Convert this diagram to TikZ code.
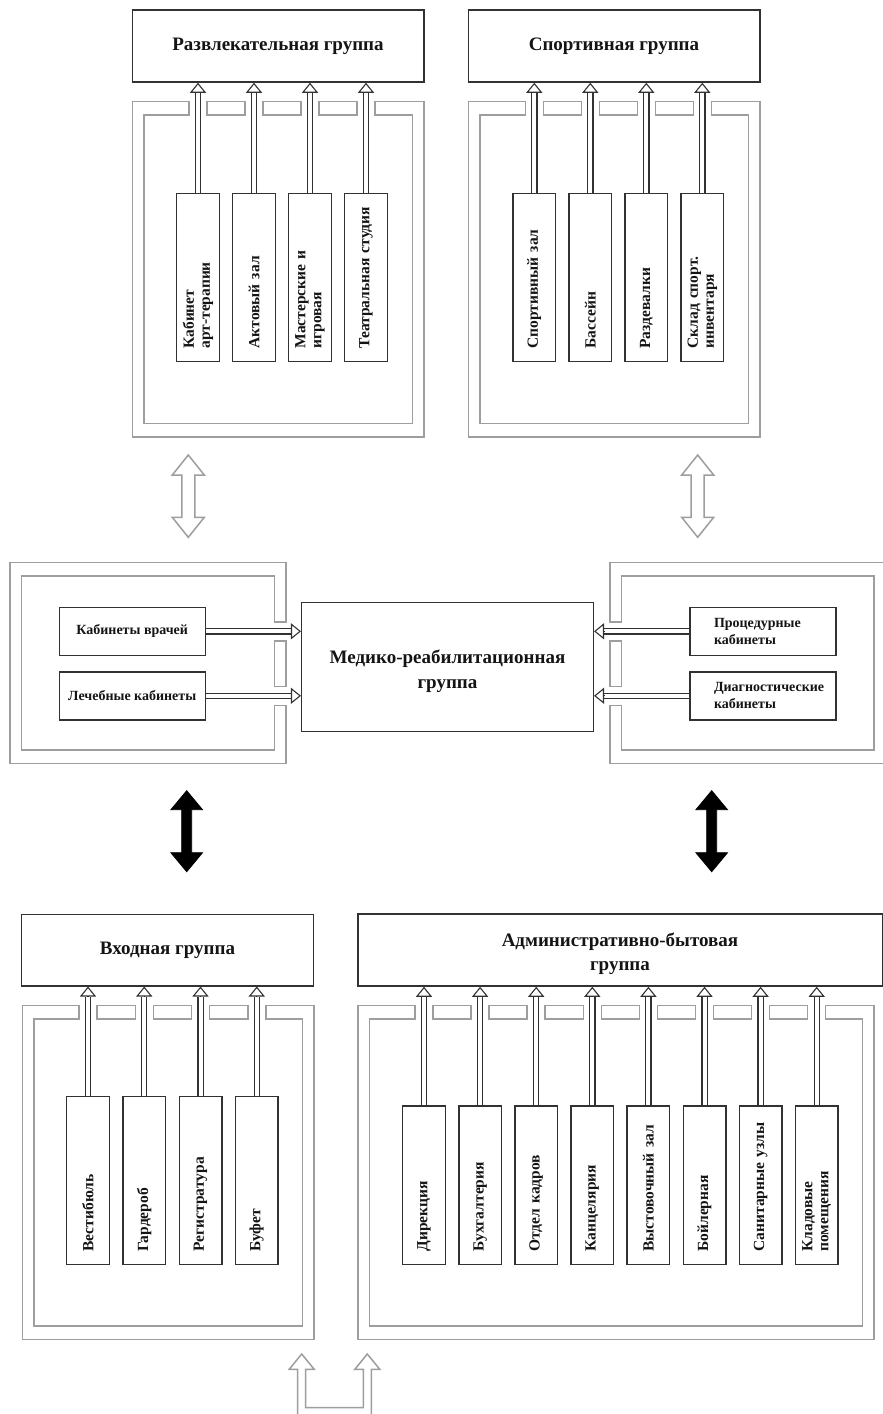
\documentclass[tikz,border=0pt]{standalone}
\usepackage{fontspec}
\setmainfont{Liberation Serif}
\usetikzlibrary{arrows.meta,calc}
\definecolor{wallc}{RGB}{158,158,158}
\definecolor{boxc}{RGB}{50,50,50}
\definecolor{txtc}{RGB}{20,20,20}
\newcommand\ttlfont{\fontsize{19}{24.5}\selectfont\bfseries}
\newcommand\roomfont{\fontsize{15.5}{16}\selectfont\bfseries}
\newcommand\midfont{\fontsize{14}{16.7}\selectfont\bfseries}
\newcommand\lowerfirst{\rule{0pt}{21.5pt}}
% wall with openings on the top side
\newcommand\gapwall[7]{%
  \pgfmathsetmacro\wgA{#5-9}%
  \pgfmathsetmacro\wgB{#5+(#7-1)*#6+9}%
  \pgfmathsetmacro\wxa{#1+11.5}\pgfmathsetmacro\wxb{#3-11.5}%
  \pgfmathsetmacro\wya{#2+13.5}\pgfmathsetmacro\wyb{#4-13.5}%
  \draw[wall] (\wgA,#2) -- (#1,#2) -- (#1,#4) -- (#3,#4) -- (#3,#2) -- (\wgB,#2)
     -- (\wgB,\wya) -- (\wxb,\wya) -- (\wxb,\wyb) -- (\wxa,\wyb) -- (\wxa,\wya) -- (\wgA,\wya) -- cycle;
  \pgfmathtruncatemacro\wnm{#7-2}%
  \foreach \k in {0,...,\wnm}{%
    \draw[wall] ({#5+\k*#6+9},#2) rectangle ({#5+(\k+1)*#6-9},\wya);
  }%
}
% connector: double shaft + open triangle head
\newcommand\conn[3]{%
  \draw[shaft] (#1) -- ($(#2)!#3!(#1)$);
  \draw[headtip] ($(#2)!#3!(#1)$) -- (#2);
}
% vertical double-headed block arrow
\newcommand\vdarrow[7]{%
  \draw[#7] (#1,#2) -- ({#1+#4},{#2+#6}) -- ({#1+#5},{#2+#6}) -- ({#1+#5},{#3-#6})
    -- ({#1+#4},{#3-#6}) -- (#1,#3) -- ({#1-#4},{#3-#6}) -- ({#1-#5},{#3-#6})
    -- ({#1-#5},{#2+#6}) -- ({#1-#4},{#2+#6}) -- cycle;
}
\begin{document}
\begin{tikzpicture}[x=1pt,y=-1pt,
  wall/.style={draw=wallc,line width=1.5},
  hollow/.style={draw=wallc,line width=1.5,fill=white},
  solidarr/.style={draw=black,fill=black,line width=0.8},
  title/.style={draw=boxc,line width=1.5,fill=white,align=center,font=\ttlfont,text=txtc,inner sep=0},
  room/.style={draw=boxc,line width=1.4,fill=white,rotate=90,minimum width=168,minimum height=42.6,
     text width=142,align=left,inner xsep=13,inner ysep=0,font=\roomfont,text=txtc},
  roomA/.style={room,minimum width=158.7,text width=132.7},
  midbox/.style={draw=boxc,line width=1.4,fill=white,minimum width=146,minimum height=48,
     align=center,font=\midfont,text=txtc,inner sep=0},
  midboxL/.style={midbox,align=left,text width=98},
  shaft/.style={draw=boxc,line width=1.2,double=white,double distance=4},
  headtip/.style={draw=boxc,line width=1.1,-{Triangle[open,length=10pt,width=16pt]}},
]
\useasboundingbox[fill=white] (0,0) rectangle (883,1414);

% ---------- walls ----------
\gapwall{132.5}{101.5}{424}{437}{198}{56}{4}
\gapwall{468.5}{101.5}{760}{437}{534.3}{56}{4}
\gapwall{22.7}{1005.5}{314}{1339.3}{88}{56.25}{4}
\gapwall{358}{1005.5}{874}{1339.3}{424}{56.1}{8}
% middle left wall (openings on its right side)
\draw[wall] (286,621.8) -- (286,562.3) -- (10,562.3) -- (10,763.3) -- (286,763.3) -- (286,705.3)
  -- (274.5,705.3) -- (274.5,749.8) -- (21.5,749.8) -- (21.5,575.8) -- (274.5,575.8) -- (274.5,621.8) -- cycle;
\draw[wall] (274.5,640.8) rectangle (286,686.3);
% middle right wall (openings on its left side)
\draw[wall] (610,621.8) -- (610,562.3) -- (885.5,562.3) -- (885.5,763.3) -- (610,763.3) -- (610,705.3)
  -- (621.5,705.3) -- (621.5,749.8) -- (874,749.8) -- (874,575.8) -- (621.5,575.8) -- (621.5,621.8) -- cycle;
\draw[wall] (610,640.8) rectangle (621.5,686.3);

% ---------- group titles ----------
\node[title,minimum width=291.5,minimum height=72] (T1) at (278,46) {Развлекательная группа};
\node[title,minimum width=291.5,minimum height=72] (T2) at (614,46) {Спортивная группа};
\node[title,minimum width=291.6,minimum height=129] (M) at (447.5,667.2) {\lowerfirst Медико-реабилитационная\\группа};
\node[title,minimum width=291.6,minimum height=71.5] (T3) at (167.5,950) {Входная группа};
\node[title,minimum width=524.5,minimum height=72] (T4) at (620,950) {\lowerfirst Административно-бытовая\\группа};

% ---------- rooms: entertainment ----------
\node[room] (a1) at (198,277.5) {Кабинет\\арт-терапии};
\node[room] (a2) at (254,277.5) {Актовый зал};
\node[room] (a3) at (310,277.5) {Мастерские и\\игровая};
\node[room] (a4) at (366,277.5) {Театральная студия};
% sport
\node[room] (b1) at (534.3,277.5) {Спортивный зал};
\node[room] (b2) at (590.3,277.5) {Бассейн};
\node[room] (b3) at (646.3,277.5) {Раздевалки};
\node[room] (b4) at (702.3,277.5) {Склад спорт.\\инвентаря};
% medical
\node[midbox] (m1) at (132.2,631.3) {Кабинеты врачей};
\node[midbox] (m2) at (132.2,695.8) {Лечебные кабинеты};
\node[midboxL] (m3) at (763,631.3) {Процедурные\\кабинеты};
\node[midboxL] (m4) at (763,695.8) {Диагностические\\кабинеты};
% entrance
\node[room] (c1) at (88,1180.5) {Вестибюль};
\node[room] (c2) at (144.25,1180.5) {Гардероб};
\node[room] (c3) at (200.5,1180.5) {Регистратура};
\node[room] (c4) at (256.75,1180.5) {Буфет};
% administration
\node[roomA] (d1) at (424,1185.2) {Дирекция};
\node[roomA] (d2) at (480.1,1185.2) {Бухгалтерия};
\node[roomA] (d3) at (536.2,1185.2) {Отдел кадров};
\node[roomA] (d4) at (592.3,1185.2) {Канцелярия};
\node[roomA] (d5) at (648.4,1185.2) {Выстовочный зал};
\node[roomA] (d6) at (704.5,1185.2) {Бойлерная};
\node[roomA] (d7) at (760.6,1185.2) {Санитарные узлы};
\node[roomA] (d8) at (816.7,1185.2) {Кладовые\\помещения};

% ---------- connectors ----------
\foreach \r in {a1,a2,a3,a4}{\conn{\r.east}{T1.south -| \r.east}{10pt}}
\foreach \r in {b1,b2,b3,b4}{\conn{\r.east}{T2.south -| \r.east}{10pt}}
\foreach \r in {c1,c2,c3,c4}{\conn{\r.east}{T3.south -| \r.east}{10pt}}
\foreach \r in {d1,d2,d3,d4,d5,d6,d7,d8}{\conn{\r.east}{T4.south -| \r.east}{10pt}}
\conn{m1.east}{M.west |- m1.east}{10pt}
\conn{m2.east}{M.west |- m2.east}{10pt}
\conn{m3.west}{M.east |- m3.west}{10pt}
\conn{m4.west}{M.east |- m4.west}{10pt}

% ---------- links between groups ----------
\vdarrow{188.3}{455}{537.3}{16}{6.5}{20}{hollow}
\vdarrow{697.7}{455}{537.3}{16}{6.5}{20}{hollow}
\vdarrow{186.7}{790.7}{871.7}{15.8}{5}{19}{solidarr}
\vdarrow{711.7}{790.7}{871.7}{15.8}{5}{19}{solidarr}
% entrance from outside
\draw[hollow,fill=none] (297.7,1420) -- (297.7,1369.3) -- (289.2,1369.3) -- (301.7,1354) -- (314.2,1369.3)
  -- (305.7,1369.3) -- (305.7,1407.7) -- (363.3,1407.7) -- (363.3,1369.3) -- (354.8,1369.3)
  -- (367.3,1354) -- (379.8,1369.3) -- (371.3,1369.3) -- (371.3,1420);
\end{tikzpicture}
\end{document}
